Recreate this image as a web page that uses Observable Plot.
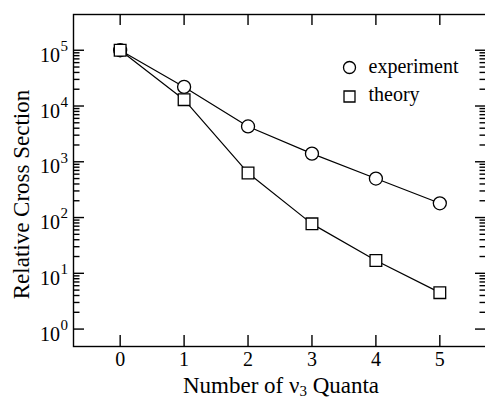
<!DOCTYPE html>
<html>
<head>
<meta charset="utf-8">
<script src="https://cdn.jsdelivr.net/npm/d3@7"></script>
<script src="https://cdn.jsdelivr.net/npm/@observablehq/plot@0.6"></script>
<style>
  html, body { margin: 0; padding: 0; background: #fff; overflow: hidden; }
</style>
</head>
<body>
<div id="chart"></div>
<script>
// Relative cross section versus number of nu3 vibrational quanta
const quanta = [0, 1, 2, 3, 4, 5];
const experiment = [1.0e5, 2.2e4, 4.3e3, 1.4e3, 500, 180];
const theory = [1.0e5, 1.3e4, 630, 77, 17, 4.5];

// Axis tick values
const xTicks = [0, 1, 2, 3, 4, 5];
const yExponents = [0, 1, 2, 3, 4, 5];
const minorDecades = [0, 1, 2, 3, 4];
const minorMultipliers = [2, 3, 4, 5, 6, 7, 8, 9];

// Legend
const legendLabels = ["experiment", "theory"];
const legendSymbols = ["circle", "square"];

const FONT = '"Liberation Serif", "Times New Roman", Times, serif';
const W = 485, H = 398, ML = 73, MR = -1, MT = 14, MB = 52;
const FW = W - ML - MR, FH = H - MT - MB;
const MAJOR = 11, MINOR = 6.5;

const rows = quanta.map((n, i) => ({n, experiment: experiment[i], theory: theory[i]}));
const majorY = yExponents.map(e => 10 ** e);
const minorY = minorDecades.flatMap(e => minorMultipliers.map(m => m * 10 ** e));

const ink = {stroke: "black", strokeWidth: 1.4};

const legendMarks = legendLabels.flatMap((label, i) => [
  Plot.dot([label], {
    frameAnchor: "top-left", dx: 276, dy: 53 + 29 * i,
    symbol: legendSymbols[i], r: legendSymbols[i] === "square" ? 6.2 : 6,
    fill: "white", stroke: "black", strokeWidth: 1.3
  }),
  Plot.text([label], {
    frameAnchor: "top-left", dx: 295, dy: 58 + 28.5 * i,
    text: d => d, textAnchor: "start", lineAnchor: "bottom",
    fontSize: 20, fill: "black"
  })
]);

const chart = Plot.plot({
  width: W, height: H,
  marginLeft: ML, marginRight: MR, marginTop: MT, marginBottom: MB,
  style: {fontFamily: FONT, background: "white", color: "black"},
  x: {domain: [-0.73, 5.73], axis: null},
  y: {type: "log", domain: [0.487, 4.375e5], axis: null},
  marks: [
    // inward ticks on all four sides
    Plot.ruleY(majorY, {...ink, insetRight: FW - MAJOR}),
    Plot.ruleY(majorY, {...ink, insetLeft: FW - MAJOR}),
    Plot.ruleY(minorY, {...ink, insetRight: FW - MINOR}),
    Plot.ruleY(minorY, {...ink, insetLeft: FW - MINOR}),
    Plot.ruleX(xTicks, {...ink, insetTop: FH - MAJOR}),
    Plot.ruleX(xTicks, {...ink, insetBottom: FH - MAJOR}),
    Plot.frame(ink),

    // tick labels: 10 with a raised exponent
    Plot.text(yExponents, {
      y: e => 10 ** e, text: () => "10", frameAnchor: "left",
      textAnchor: "end", lineAnchor: "bottom", dx: -13.5, dy: 11.7,
      fontSize: 20, fill: "black"
    }),
    Plot.text(yExponents, {
      y: e => 10 ** e, text: e => String(e), frameAnchor: "left",
      textAnchor: "start", lineAnchor: "bottom", dx: -13, dy: 0.9,
      fontSize: 15, fill: "black"
    }),
    Plot.text(xTicks, {
      x: d => d, text: d => String(d), frameAnchor: "bottom",
      lineAnchor: "bottom", dy: 19.5, fontSize: 20, fill: "black"
    }),

    // axis titles
    Plot.text(["Number of ν3 Quanta"], {
      text: d => d, frameAnchor: "bottom", textAnchor: "middle", lineAnchor: "bottom",
      dx: 1, dy: 46, fontSize: 23, fill: "black"
    }),
    Plot.text(["Relative Cross Section"], {
      text: d => d, frameAnchor: "left", textAnchor: "middle", rotate: -90,
      lineAnchor: "bottom", dx: -45, dy: 14, fontSize: 23, fill: "black"
    }),

    // series
    Plot.line(rows, {x: "n", y: "experiment", stroke: "black", strokeWidth: 1.2}),
    Plot.line(rows, {x: "n", y: "theory", stroke: "black", strokeWidth: 1.2}),
    Plot.dot(rows, {x: "n", y: "experiment", symbol: "circle", r: 6.5, fill: "white", stroke: "black", strokeWidth: 1.3}),
    Plot.dot(rows, {x: "n", y: "theory", symbol: "square", r: 6.6, fill: "white", stroke: "black", strokeWidth: 1.3}),

    ...legendMarks
  ]
});

// Subscript the 3 in the x-axis title
d3.select(chart).selectAll("text")
  .filter(function () { return this.textContent === "Number of ν3 Quanta"; })
  .each(function () {
    const t = d3.select(this);
    t.text(null);
    t.append("tspan").text("Number of ν");
    t.append("tspan").attr("dy", 3).attr("font-size", 15).text("3");
    t.append("tspan").attr("dy", -3).text(" Quanta");
  });

document.getElementById("chart").appendChild(chart);
</script>
</body>
</html>
